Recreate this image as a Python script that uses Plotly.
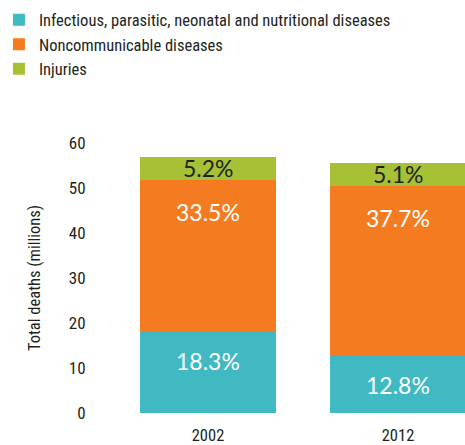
import plotly.graph_objects as go

# Deaths by broad cause group (millions)
years = ["2002", "2012"]
infectious = [18.3, 12.8]
noncommunicable = [33.5, 37.7]
injuries = [5.2, 5.1]

series_names = [
    "Infectious, parasitic, neonatal and nutritional diseases",
    "Noncommunicable diseases",
    "Injuries",
]
colors = ["#40B9C3", "#F47B20", "#A6C136"]
label_colors = ["#FFFFFF", "#FFFFFF", "#231F20"]
label_shift = [-30, -32, -11]

COND = "Roboto Condensed"
GEO = "Lato"
INK = "#231F20"

fig = go.Figure()
series = [infectious, noncommunicable, injuries]
for name, vals, col in zip(series_names, series, colors):
    fig.add_trace(go.Bar(
        x=years, y=vals, name=name, marker=dict(color=col, line=dict(width=0)),
        width=0.72, hoverinfo="skip",
    ))

# Value labels placed just below the top of each stacked segment
annotations = []
cum = [0.0] * len(years)
for vals, lc, dy in zip(series, label_colors, label_shift):
    for i, v in enumerate(vals):
        cum[i] += v
        annotations.append(dict(
            x=i, y=cum[i], xref="x", yref="y", text=f"{v:.1f}%",
            showarrow=False, yanchor="middle", yshift=dy,
            font=dict(family=GEO, size=23, color=lc),
        ))

fig.update_layout(
    width=465, height=445,
    margin=dict(l=113, r=0, t=143, b=32, autoexpand=False),
    paper_bgcolor="white", plot_bgcolor="white",
    barmode="stack",
    annotations=annotations,
    showlegend=True,
    legend=dict(
        x=-0.324, y=1.52, xanchor="left", yanchor="top", traceorder="normal",
        font=dict(family=COND, size=16.5, color=INK),
        itemwidth=30, tracegroupgap=0, bgcolor="rgba(0,0,0,0)",
    ),
    xaxis=dict(
        type="category", range=[-0.5, 1.3526], showgrid=False, zeroline=False,
        showline=False, ticks="outside", ticklen=7, tickcolor="rgba(0,0,0,0)",
        tickfont=dict(family=COND, size=16.5, color=INK),
    ),
    yaxis=dict(
        range=[0, 60], dtick=10, showgrid=False, zeroline=False, showline=False,
        ticks="outside", ticklen=23, tickcolor="rgba(0,0,0,0)",
        tickfont=dict(family=COND, size=17, color=INK),
        title=dict(text="Total deaths (millions)", standoff=24,
                   font=dict(family=COND, size=16.5, color=INK)),
    ),
)

fig.write_html("out.html")
